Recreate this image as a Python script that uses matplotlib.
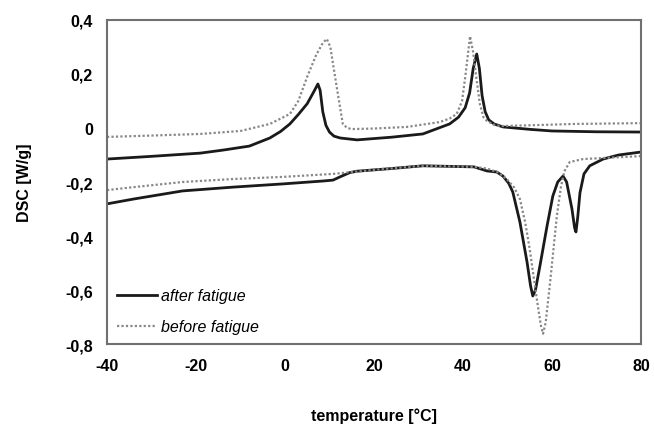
import matplotlib.pyplot as plt

plt.rcParams['font.family'] = ['Liberation Sans', 'DejaVu Sans']

# cooling runs (upper curves)
cool_after_t = [-40, -30, -19, -14, -8, -3.4, -1, 1.1, 3, 5, 6.5, 7.4, 7.9, 8.5, 9.2, 10,
                11, 12.4, 16.2, 24, 31, 37, 39, 40.5, 41.5, 42.3, 43.1, 43.7, 44.3, 45,
                45.8, 47, 49, 55, 60, 70, 80]
cool_after_q = [-0.115, -0.105, -0.093, -0.082, -0.067, -0.037, -0.013, 0.015, 0.05, 0.09,
                0.135, 0.163, 0.14, 0.06, 0.01, -0.015, -0.03, -0.037, -0.044, -0.034,
                -0.022, 0.015, 0.04, 0.075, 0.13, 0.22, 0.274, 0.22, 0.12, 0.06, 0.03,
                0.015, 0.004, -0.005, -0.011, -0.014, -0.015]

cool_before_t = [-40, -30, -19, -10, -3.4, 1.1, 3, 5, 7, 8.5, 9.4, 10.2, 10.8, 12, 13,
                 14, 15, 20, 27.4, 34.8, 37, 38.6, 39.8, 40.6, 41.6, 42.3, 42.9, 43.8,
                 44.6, 45.4, 47, 48.3, 55, 65, 80]
cool_before_q = [-0.033, -0.028, -0.022, -0.011, 0.015, 0.052, 0.1, 0.19, 0.27, 0.315,
                 0.33, 0.3, 0.237, 0.115, 0.015, 0.0, -0.004, -0.002, 0.004, 0.022,
                 0.035, 0.052, 0.1, 0.2, 0.34, 0.28, 0.2, 0.089, 0.04, 0.026, 0.012,
                 0.007, 0.01, 0.015, 0.018]

# heating runs (lower curves)
heat_after_t = [-40, -34, -23, -11.7, -0.4, 8.8, 10.8, 12.5, 14.6, 16.2, 24, 31, 42.5,
                45.4, 47.6, 49, 50.3, 51.2, 52.8, 54.4, 55.2, 55.7, 56.3, 57.3, 58.9,
                60.2, 61.3, 62.5, 63.3, 64.5, 65.1, 65.4, 65.8, 66.3, 67.2, 68.5, 71.5,
                75, 80]
heat_after_q = [-0.281, -0.263, -0.233, -0.219, -0.207, -0.196, -0.193, -0.18, -0.165,
                -0.16, -0.15, -0.14, -0.144, -0.159, -0.163, -0.178, -0.205, -0.237,
                -0.348, -0.496, -0.585, -0.622, -0.6, -0.511, -0.363, -0.252, -0.2,
                -0.178, -0.2, -0.3, -0.37, -0.385, -0.33, -0.24, -0.17, -0.14, -0.115,
                -0.1, -0.089]

heat_before_t = [-40, -34, -23, -11.7, -0.4, 10.8, 20, 31, 42.5, 45.4, 48, 49.9, 51.5,
                 52.8, 54, 55, 56.6, 57.5, 58, 58.6, 59.6, 61.1, 62, 62.8, 64, 67, 80]
heat_before_q = [-0.23, -0.219, -0.2, -0.189, -0.181, -0.17, -0.155, -0.14, -0.144,
                 -0.15, -0.165, -0.19, -0.22, -0.263, -0.35, -0.448, -0.633, -0.73,
                 -0.762, -0.72, -0.57, -0.326, -0.22, -0.16, -0.126, -0.115, -0.104]

x_ticks = [-40, -20, 0, 20, 40, 60, 80]
y_ticks = [0.4, 0.2, 0, -0.2, -0.4, -0.6, -0.8]


def comma(v):
    s = ('%.1f' % v).replace('.', ',')
    return '0' if v == 0 else s


fig = plt.figure(figsize=(6.54, 4.31), dpi=100)
ax = fig.add_axes([0.1636, 0.1995, 0.8164, 0.7518])

dot = (0, (1, 1))
ax.plot(cool_after_t, cool_after_q, color='#1a1a1a', lw=2, label='after fatigue')
ax.plot(cool_before_t, cool_before_q, color='#888888', lw=1.6, ls=dot, label='before fatigue')
ax.plot(heat_after_t, heat_after_q, color='#1a1a1a', lw=2)
ax.plot(heat_before_t, heat_before_q, color='#888888', lw=1.6, ls=dot)

ax.set_xlim(-40, 80)
ax.set_ylim(-0.8, 0.4)
ax.set_xticks(x_ticks)
ax.set_xticklabels([str(t) for t in x_ticks])
ax.set_yticks(y_ticks)
ax.set_yticklabels([comma(v) for v in y_ticks])
ax.tick_params(length=0, pad=10, labelsize=11.5)
for lab in ax.get_xticklabels() + ax.get_yticklabels():
    lab.set_fontweight('bold')
for sp in ax.spines.values():
    sp.set_color('#707070')
    sp.set_linewidth(1.5)

ax.set_xlabel('temperature [°C]', fontsize=11.5, fontweight='bold', labelpad=25)
ax.set_ylabel('DSC [W/g]', fontsize=11.5, fontweight='bold', labelpad=24)

leg = ax.legend(loc='lower left', frameon=False, fontsize=11.5, handlelength=2.5,
                handletextpad=0.3, borderaxespad=0.2, labelspacing=1.0)
for t in leg.get_texts():
    t.set_fontstyle('italic')

fig.savefig('out.png', dpi=100)
